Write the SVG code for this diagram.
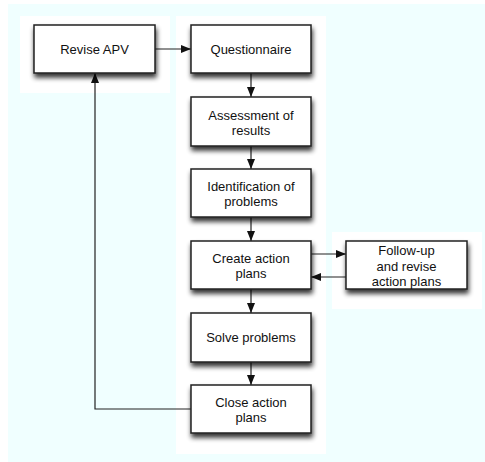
<svg xmlns="http://www.w3.org/2000/svg" width="485" height="462" viewBox="0 0 485 462">
  <defs>
    <filter id="shadow" x="-20%" y="-30%" width="140%" height="170%">
      <feGaussianBlur in="SourceAlpha" stdDeviation="2.6"/>
      <feOffset dx="1" dy="4" result="blur"/>
      <feComponentTransfer>
        <feFuncA type="linear" slope="0.8"/>
      </feComponentTransfer>
      <feMerge>
        <feMergeNode/>
        <feMergeNode in="SourceGraphic"/>
      </feMerge>
    </filter>
    <marker id="arrow" viewBox="0 0 10 8" refX="10" refY="4" markerWidth="10" markerHeight="8" markerUnits="userSpaceOnUse" orient="auto">
      <path d="M0,0 L10,4 L0,8 Z" fill="#111"/>
    </marker>
  </defs>
  <style>
    .box { fill: #ffffff; stroke: #222222; stroke-width: 1.5; filter: url(#shadow); }
    .label { font-family: "Liberation Sans", Arial, Helvetica, sans-serif; font-size: 13px; fill: #111111; text-anchor: middle; }
    .link { fill: none; stroke: #222222; stroke-width: 1.2; }
    .panel { fill: #ffffff; }
  </style>

  <!-- backdrop and swimlane panels -->
  <rect x="8" y="4" width="477" height="458" fill="#f0ffff"/>
  <rect class="panel" x="20" y="16" width="150" height="77"/>
  <rect class="panel" x="176" y="16" width="150" height="438"/>
  <rect class="panel" x="332" y="232" width="150" height="77"/>

  <!-- connectors -->
  <g id="connectors">
    <line class="link" x1="155" y1="49" x2="191" y2="49" marker-end="url(#arrow)"/>
    <line class="link" x1="251" y1="73" x2="251" y2="97" marker-end="url(#arrow)"/>
    <line class="link" x1="251" y1="146" x2="251" y2="169" marker-end="url(#arrow)"/>
    <line class="link" x1="251" y1="217" x2="251" y2="241" marker-end="url(#arrow)"/>
    <line class="link" x1="311" y1="254" x2="346" y2="254" marker-end="url(#arrow)"/>
    <line class="link" x1="346" y1="277" x2="311" y2="277" marker-end="url(#arrow)"/>
    <line class="link" x1="251" y1="289" x2="251" y2="313" marker-end="url(#arrow)"/>
    <line class="link" x1="251" y1="362" x2="251" y2="385" marker-end="url(#arrow)"/>
    <polyline class="link" points="191,409 95,409 95,73" marker-end="url(#arrow)"/>
  </g>

  <!-- nodes -->
  <g id="revise-apv">
    <rect class="box" x="34" y="25" width="121" height="48"/>
    <text class="label" x="94.5" y="53.7">Revise APV</text>
  </g>
  <g id="questionnaire">
    <rect class="box" x="191" y="25" width="120" height="48"/>
    <text class="label" x="251" y="53.7">Questionnaire</text>
  </g>
  <g id="assessment">
    <rect class="box" x="191" y="97" width="120" height="49"/>
    <text class="label" x="251" y="119.5">Assessment of</text>
    <text class="label" x="251" y="134.5">results</text>
  </g>
  <g id="identification">
    <rect class="box" x="191" y="169" width="120" height="48"/>
    <text class="label" x="251" y="191">Identification of</text>
    <text class="label" x="251" y="206">problems</text>
  </g>
  <g id="create-action-plans">
    <rect class="box" x="191" y="241" width="120" height="48"/>
    <text class="label" x="251" y="263">Create action</text>
    <text class="label" x="251" y="278">plans</text>
  </g>
  <g id="follow-up">
    <rect class="box" x="346" y="241" width="121" height="48"/>
    <text class="label" x="406.5" y="255">Follow-up</text>
    <text class="label" x="406.5" y="270.5">and revise</text>
    <text class="label" x="406.5" y="286">action plans</text>
  </g>
  <g id="solve-problems">
    <rect class="box" x="191" y="313" width="120" height="49"/>
    <text class="label" x="251" y="342">Solve problems</text>
  </g>
  <g id="close-action-plans">
    <rect class="box" x="191" y="385" width="120" height="48"/>
    <text class="label" x="251" y="407">Close action</text>
    <text class="label" x="251" y="422">plans</text>
  </g>
</svg>
